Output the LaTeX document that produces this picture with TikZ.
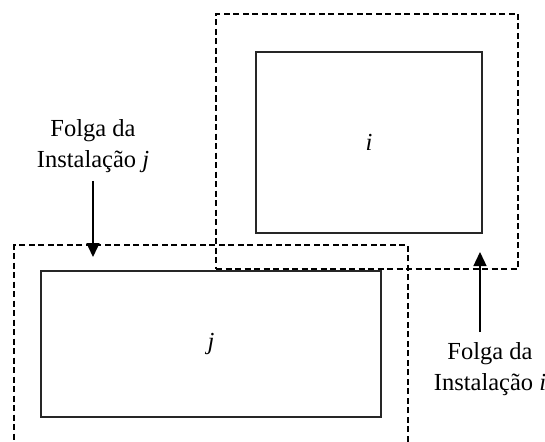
\documentclass[tikz,border=0pt]{standalone}
\usepackage{fontspec}
\setmainfont{Liberation Serif}
\usepackage{tikz}
\usetikzlibrary{
  positioning,
  arrows.meta
}

\begin{document}
\begin{tikzpicture}[
  x=1pt, y=-1pt,
  font=\fontsize{24.5}{31}\selectfont,
  >={Triangle[length=14pt, width=13pt]},
  folga/.style={
    draw, dash pattern=on 6pt off 3.5pt,
    line width=1.6pt,
    inner sep=0pt,
  },
  inst/.style={
    draw=black!85,
    line width=1.3pt,
    inner sep=0pt,
  },
  lab/.style={align=center, inner sep=0pt},
  arr/.style={->, line width=1.3pt},
]
  \useasboundingbox (0,0) rectangle (545,441);

  % -------- instalacao i (topo, direita) --------
  \node[folga, minimum width=302pt, minimum height=255pt] (FI) at (367,141.5) {};
  \node[inst, minimum width=226pt, minimum height=181pt] (I) at (369,142.5) {\textit{i}};

  % -------- instalacao j (baixo, esquerda; folga cortada) --------
  \node[folga, minimum width=394pt, minimum height=230pt] (FJ) at (211,360) {};
  \node[inst, minimum width=340pt, minimum height=146pt] (J) at (211,344) {\textit{j}};

  % -------- rotulos --------
  \node[lab] (LJ) at (93,146) {Folga da\\Instala\c{c}\~ao \textit{j}};
  \node[lab] (LI) at (490,369) {Folga da\\Instala\c{c}\~ao \textit{i}};

  \coordinate (tj) at (93,257);
  \coordinate (ti) at (480,252);
  \draw[arr] (LJ.south -| tj) ++(0,8) -- (tj);
  \draw[arr] (LI.north -| ti) ++(0,-10) -- (ti);
\end{tikzpicture}
\end{document}
